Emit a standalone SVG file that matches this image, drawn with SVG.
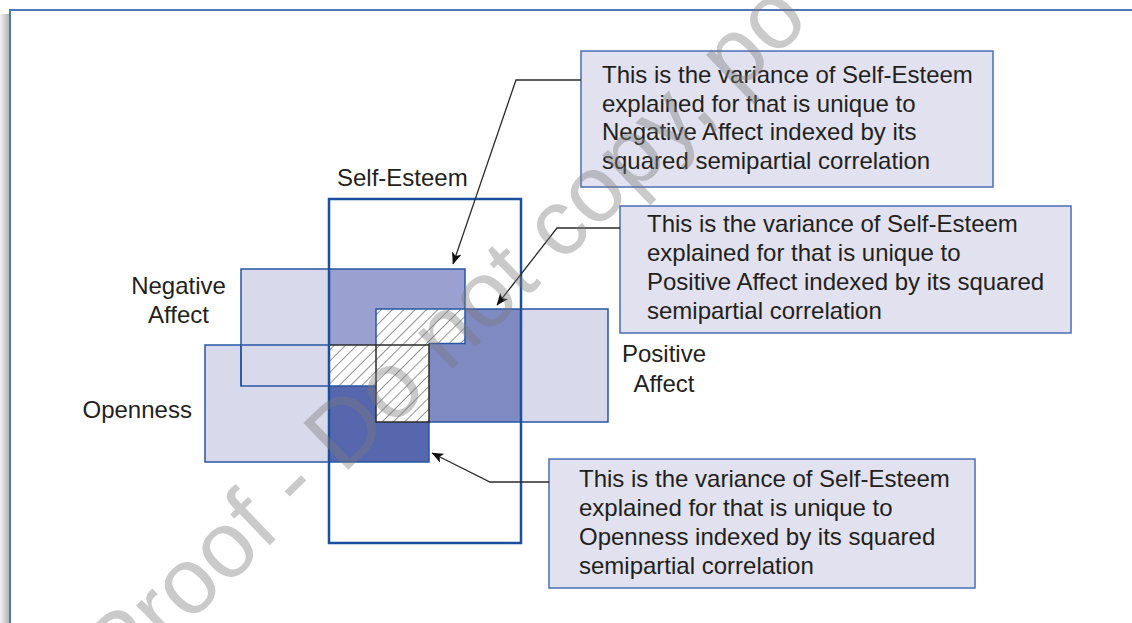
<svg xmlns="http://www.w3.org/2000/svg" width="1132" height="623" viewBox="0 0 1132 623">
  <style>
    .lbl { font-family: "Liberation Sans", Arial, Helvetica, sans-serif; font-size: 24px; fill: #231f20; }
    .box { fill: #e1e1ef; stroke: #4a6db5; stroke-width: 1.5; }
    .pale { fill: #d9d9ec; }
    .edge { fill: none; stroke: #2656a4; stroke-width: 1.5; }
    .hatch-edge { fill: none; stroke: #2b2b2b; stroke-width: 1.5; }
    .conn { fill: none; stroke: #2b2b2b; stroke-width: 1.3; }
    .mark { font-family: "Liberation Sans", Arial, sans-serif; font-size: 94px; fill: #7a7a7a; fill-opacity: 0.4; }
  </style>
  <defs>
    <pattern id="hatch" patternUnits="userSpaceOnUse" width="8" height="8" patternTransform="rotate(45)">
      <rect width="8" height="8" fill="#ffffff"/>
      <line x1="0" y1="0" x2="0" y2="8" stroke="#3a3a3a" stroke-width="1.1"/>
    </pattern>
    <marker id="arrow" viewBox="0 0 12 10" refX="11.5" refY="5" markerWidth="12" markerHeight="10" markerUnits="userSpaceOnUse" orient="auto">
      <path d="M0,0 L12,5 L0,10 L3,5 Z" fill="#111111"/>
    </marker>
    <linearGradient id="shadow" x1="0" y1="0" x2="1" y2="0">
      <stop offset="0" stop-color="#f2f2f2"/>
      <stop offset="1" stop-color="#b4b4b4"/>
    </linearGradient>
  </defs>

  <!-- page frame with soft left shadow -->
  <rect x="0" y="0" width="1132" height="623" fill="#ffffff"/>
  <rect x="0" y="14" width="9" height="609" fill="url(#shadow)"/>
  <rect x="10" y="10" width="1140" height="640" fill="#ffffff" stroke="#4f76b9" stroke-width="2"/>

  <!-- predictor sets: pale parts outside the criterion -->
  <g id="negative-affect">
    <rect class="pale" x="241" y="269" width="224" height="117"/>
    <text class="lbl" x="178.5" y="294" text-anchor="middle">Negative</text>
    <text class="lbl" x="178.5" y="323" text-anchor="middle">Affect</text>
  </g>
  <g id="openness">
    <rect class="pale" x="205" y="345" width="224" height="117"/>
    <text class="lbl" x="82.5" y="418">Openness</text>
  </g>
  <g id="positive-affect">
    <rect class="pale" x="376" y="309" width="232" height="113"/>
    <text class="lbl" x="664" y="362" text-anchor="middle">Positive</text>
    <text class="lbl" x="664" y="392" text-anchor="middle">Affect</text>
  </g>

  <!-- criterion and its shared / unique parts -->
  <g id="self-esteem">
    <path d="M329,269 H465 V309 H376 V345 H329 Z" fill="#9aa0cf"/>
    <path d="M465,309 H521 V422 H429 V343.5 H465 Z" fill="#7f89c2"/>
    <path d="M329,386 H376 V422 H429 V462 H329 Z" fill="#5767ad"/>
    <path d="M376,309 H465 V343.5 H429 V422 H376 V386 H329 V345 H376 Z" fill="url(#hatch)"/>
    <!-- set outlines -->
    <path class="edge" d="M241,386 V269 H465 V343.5 H429"/>
    <path class="edge" d="M241,345 V386 H376"/>
    <path class="edge" d="M329,345 H205 V462 H429 V422"/>
    <path class="edge" d="M376,345 V309 H608 V422 H429"/>
    <path class="hatch-edge" d="M329,345 H429 M376,345 V422 H429 V343.5"/>
    <rect x="329" y="199" width="192" height="344" fill="none" stroke="#1d4f9f" stroke-width="2.5"/>
    <text class="lbl" x="337" y="186">Self-Esteem</text>
  </g>

  <!-- callouts -->
  <g id="note-negative">
    <rect class="box" x="581" y="51" width="412" height="136"/>
    <text class="lbl" x="602" y="83">This is the variance of Self-Esteem</text>
    <text class="lbl" x="602" y="111.5">explained for that is unique to</text>
    <text class="lbl" x="602" y="140">Negative Affect indexed by its</text>
    <text class="lbl" x="602" y="168.5">squared semipartial correlation</text>
  </g>
  <g id="note-positive">
    <rect class="box" x="620" y="206" width="451" height="127"/>
    <text class="lbl" x="647" y="232">This is the variance of Self-Esteem</text>
    <text class="lbl" x="647" y="261">explained for that is unique to</text>
    <text class="lbl" x="647" y="290">Positive Affect indexed by its squared</text>
    <text class="lbl" x="647" y="319">semipartial correlation</text>
  </g>
  <g id="note-openness">
    <rect class="box" x="549" y="459" width="426" height="129"/>
    <text class="lbl" x="579" y="487">This is the variance of Self-Esteem</text>
    <text class="lbl" x="579" y="516">explained for that is unique to</text>
    <text class="lbl" x="579" y="545">Openness indexed by its squared</text>
    <text class="lbl" x="579" y="574">semipartial correlation</text>
  </g>

  <g id="connectors">
    <path class="conn" d="M581,80 H516 L453,264" marker-end="url(#arrow)"/>
    <path class="conn" d="M620,228 H557 L497,305" marker-end="url(#arrow)"/>
    <path class="conn" d="M549,482 H490 L432,453" marker-end="url(#arrow)"/>
  </g>

  <text class="mark" x="121" y="689" transform="rotate(-44 121 689)">Proof - Do not copy, po</text>
</svg>
